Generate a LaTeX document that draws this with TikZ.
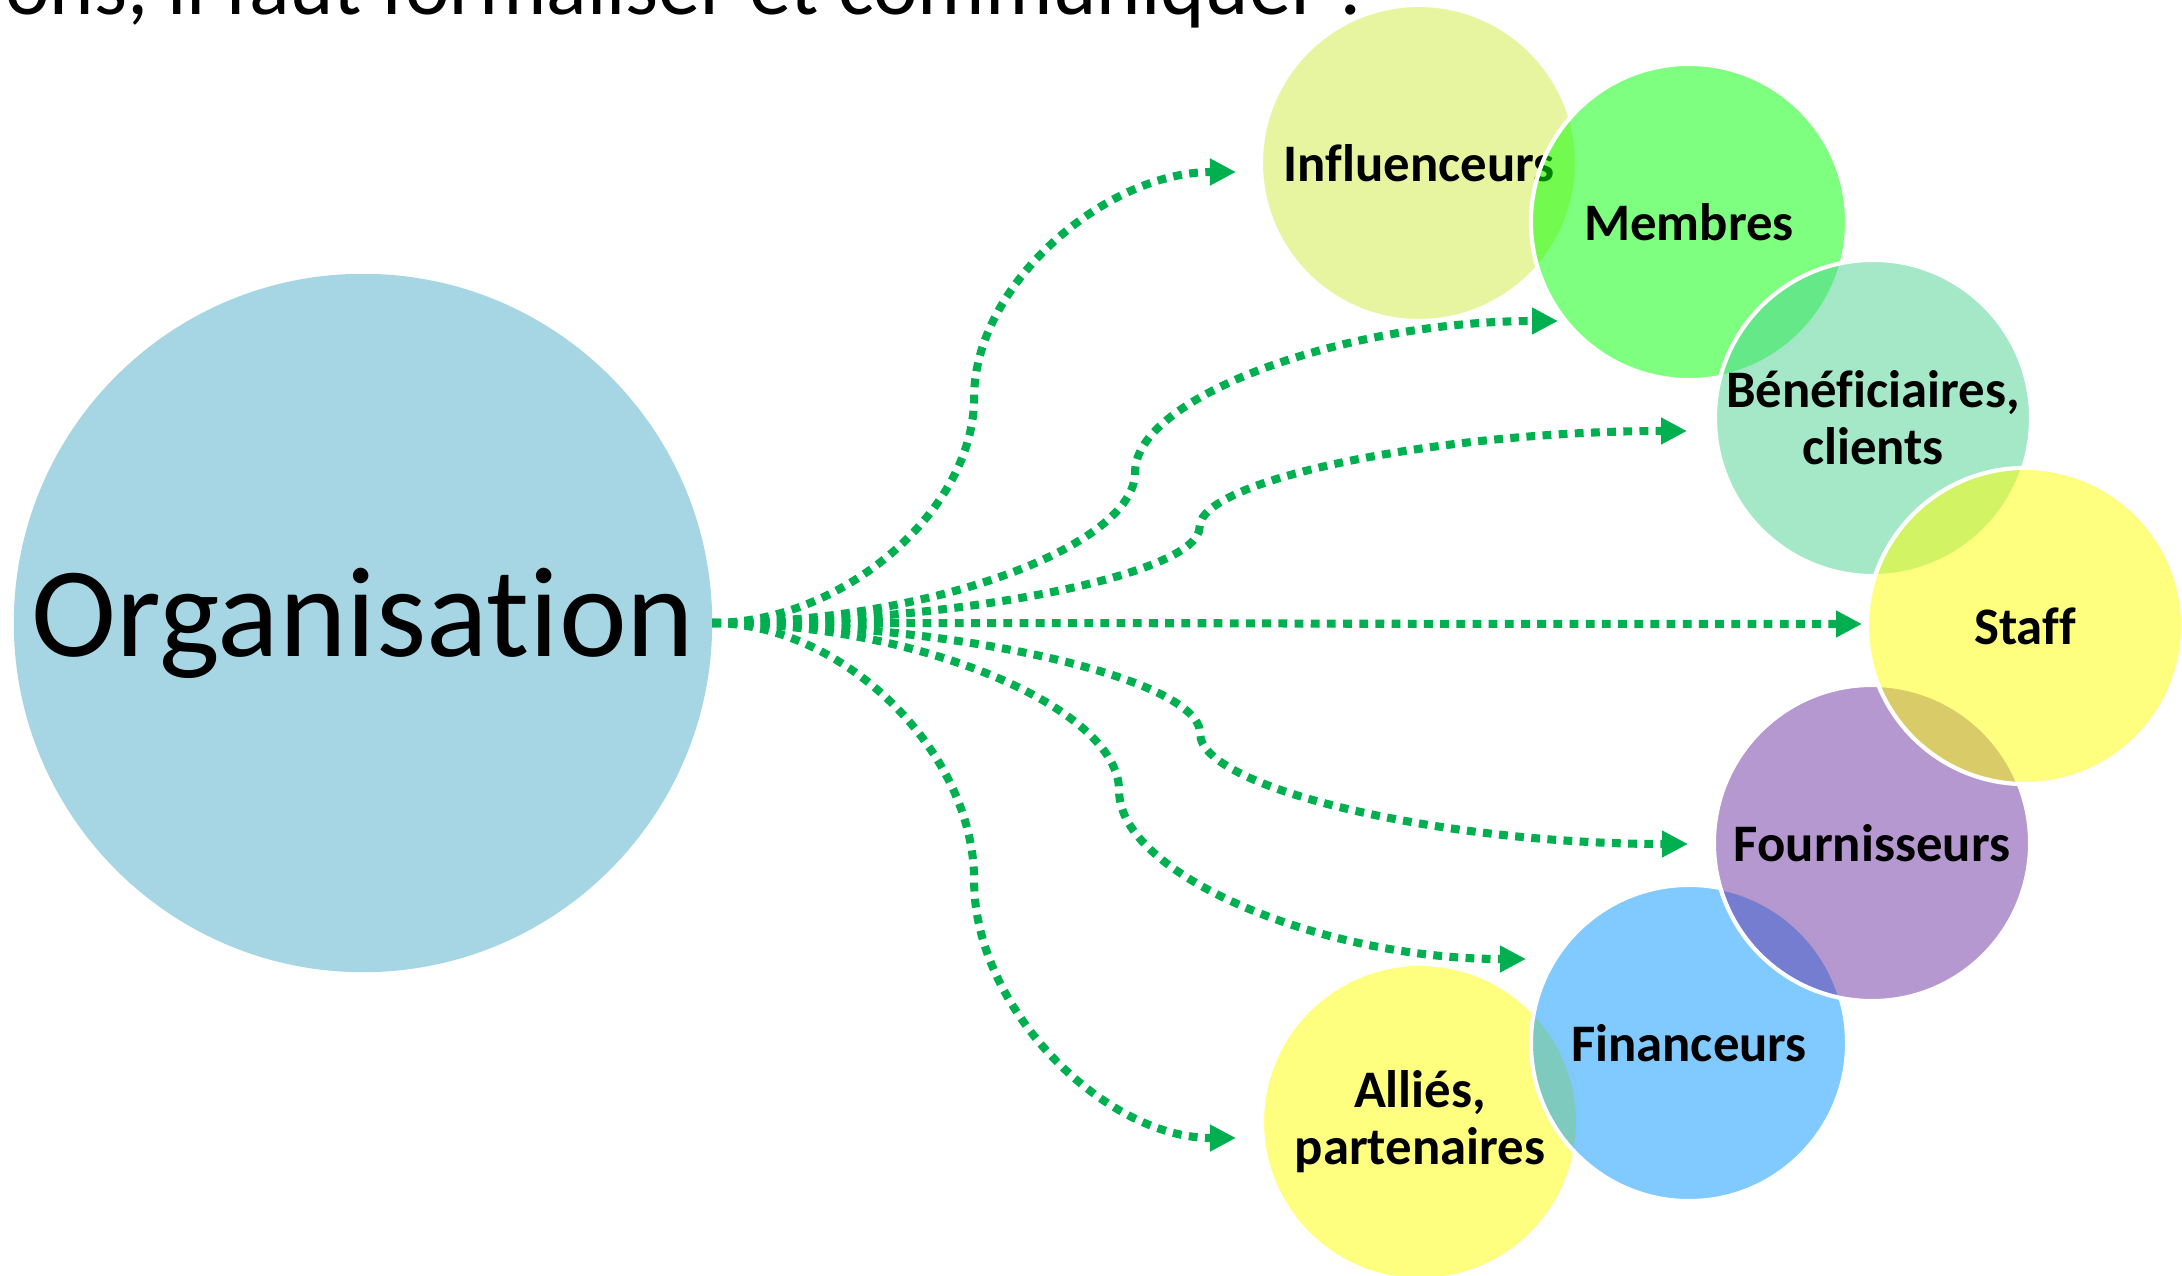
\documentclass[tikz,border=0pt]{standalone}
\usepackage{fontspec}
\setmainfont{Carlito}[Ligatures=NoCommon]
\usetikzlibrary{arrows.meta,calc}
\definecolor{orgblue}{RGB}{166,214,227}
\definecolor{linkgreen}{RGB}{0,176,80}
\definecolor{inflcol}{RGB}{209,235,65}
\definecolor{membcol}{RGB}{0,255,0}
\definecolor{benecol}{RGB}{75,209,145}
\definecolor{staffcol}{RGB}{255,255,0}
\definecolor{fourcol}{RGB}{107,49,159}
\definecolor{fincol}{RGB}{1,149,255}
\definecolor{allcol}{RGB}{255,255,0}

\begin{document}
\begin{tikzpicture}[x=0.01cm, y=-0.01cm,
    bubble/.style={circle, minimum size=3.16cm, inner sep=0pt, outer sep=0pt,
      draw=white, line width=1.2pt, fill opacity=0.5, text opacity=1,
      align=center, font=\bfseries\fontsize{15}{16.2}\selectfont},
    link/.style={draw=linkgreen, line width=2.3pt, dash pattern=on 2.5pt off 2.1pt,
      -{Triangle[length=7.4pt,width=7.2pt]}}]
    \clip (0,0) rectangle (2182,1276);
    \node[anchor=base west, font=\fontsize{24}{29}\selectfont] (title) at (-7,15)
      {ons, il faut formaliser et communiquer :};
    \node[circle, fill=orgblue, minimum size=6.98cm, inner sep=0pt, outer sep=0pt,
      font=\fontsize{36.5}{44}\selectfont] (org) at (363,623) {Organisation};
    % arrow ends
    \coordinate (tInf) at (1236,172);
    \coordinate (tMem) at (1558,321);
    \coordinate (tBen) at (1687,431);
    \coordinate (tSta) at (1862,624);
    \coordinate (tFou) at (1688,844);
    \coordinate (tFin) at (1526,959);
    \coordinate (tAll) at (1236,1138);
    \foreach \t in {tInf,tMem,tBen,tSta,tFou,tFin,tAll} {
      \draw[link] let \p1=(org.east), \p2=(\t) in
        (\p1) .. controls ({(3*\x1+\x2)/4},\y1) and ({(\x1+\x2)/2},{(3*\y1+\y2)/4})
        .. ({(\x1+\x2)/2},{(\y1+\y2)/2})
        .. controls ({(\x1+\x2)/2},{(\y1+3*\y2)/4}) and ({(\x1+3*\x2)/4},\y2) .. (\p2);
    }
    \node[bubble, fill=inflcol] (infl) at (1419,163) {Influenceurs};
    \node[bubble, fill=membcol] (memb) at (1689,222) {Membres};
    \node[bubble, fill=benecol] (bene) at (1873,418) {Bénéficiaires,\\clients};
    \node[bubble, fill=allcol] (alli) at (1420,1122) {Alliés,\\partenaires};
    \node[bubble, fill=fincol] (fina) at (1689,1043) {Financeurs};
    \node[bubble, fill=fourcol] (four) at (1872,843) {Fournisseurs};
    \node[bubble, fill=staffcol] (staf) at (2025,626) {Staff};
\end{tikzpicture}
\end{document}
